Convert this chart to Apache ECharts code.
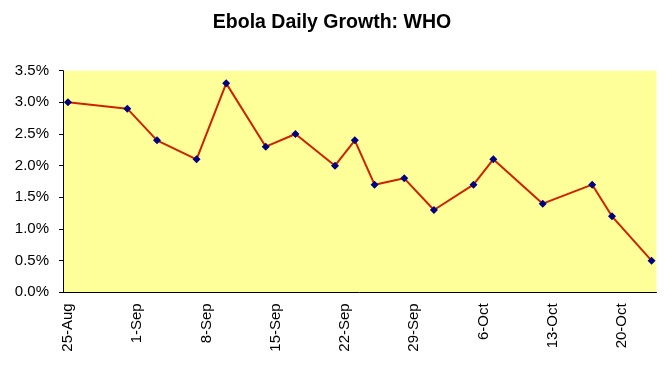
<!DOCTYPE html>
<html>
<head>
<meta charset="utf-8">
<script src="https://cdn.jsdelivr.net/npm/echarts@6/dist/echarts.min.js"></script>
<style>
  html, body { margin: 0; padding: 0; background: #ffffff; }
  #chart { width: 664px; height: 366px; }
</style>
</head>
<body>
<div id="chart"></div>
<script>
// Observation dates and daily growth (%)
const pointDates = ['25-Aug','31-Aug','3-Sep','7-Sep','10-Sep','14-Sep','17-Sep','21-Sep','23-Sep','25-Sep','28-Sep','1-Oct','5-Oct','7-Oct','12-Oct','17-Oct','19-Oct','23-Oct'];
const growthPct = [3.0, 2.9, 2.4, 2.1, 3.3, 2.3, 2.5, 2.0, 2.4, 1.7, 1.8, 1.3, 1.7, 2.1, 1.4, 1.7, 1.2, 0.5];
const tickLabels = ['25-Aug','1-Sep','8-Sep','15-Sep','22-Sep','29-Sep','6-Oct','13-Oct','20-Oct'];
const yTicks = [0, 0.5, 1.0, 1.5, 2.0, 2.5, 3.0, 3.5];

// Daily categories of the date axis (25-Aug .. 23-Oct)
const months = ['Jan','Feb','Mar','Apr','May','Jun','Jul','Aug','Sep','Oct','Nov','Dec'];
const dayCategories = [];
for (let i = 0; i < 60; i++) {
  const d = new Date(Date.UTC(2014, 7, 25 + i));
  dayCategories.push(d.getUTCDate() + '-' + months[d.getUTCMonth()]);
}

const chart = echarts.init(document.getElementById('chart'), null, { renderer: 'canvas' });
const font = 'Liberation Sans, Arial, sans-serif';
chart.setOption({
  animation: false,
  backgroundColor: '#ffffff',
  title: {
    text: 'Ebola Daily Growth: WHO',
    left: 'center',
    top: 8,
    textStyle: { fontFamily: font, fontSize: 19.5, fontWeight: 'bold', color: '#000000' }
  },
  grid: {
    left: 63, right: 7.5, top: 70.7, bottom: 73.7,
    show: true, backgroundColor: '#FFFF99', borderWidth: 0
  },
  xAxis: {
    type: 'category',
    data: dayCategories,
    boundaryGap: true,
    axisLine: { lineStyle: { color: '#000000', width: 1 } },
    axisTick: {
      interval: function (idx, val) { return tickLabels.indexOf(val) >= 0; },
      length: 5, lineStyle: { color: '#000000' }
    },
    axisLabel: {
      interval: function (idx, val) { return tickLabels.indexOf(val) >= 0; },
      rotate: 90, margin: 11,
      fontFamily: font, fontSize: 15, color: '#000000'
    },
    splitLine: { show: false }
  },
  yAxis: {
    type: 'value',
    min: yTicks[0], max: yTicks[yTicks.length - 1], interval: 0.5,
    axisLine: { show: true, lineStyle: { color: '#000000', width: 1 } },
    axisTick: { show: true, length: 4, lineStyle: { color: '#000000' } },
    axisLabel: {
      margin: 14, fontFamily: font, fontSize: 15, color: '#000000',
      formatter: function (v) { return v.toFixed(1) + '%'; }
    },
    splitLine: { show: false }
  },
  series: [{
    type: 'line',
    data: pointDates.map(function (d, i) { return [d, growthPct[i]]; }),
    lineStyle: { color: '#CC2200', width: 2 },
    symbol: 'diamond',
    symbolSize: 8,
    showSymbol: true,
    showAllSymbol: true,
    itemStyle: { color: '#000080', borderWidth: 0 },
    connectNulls: true
  }]
});
</script>
</body>
</html>
